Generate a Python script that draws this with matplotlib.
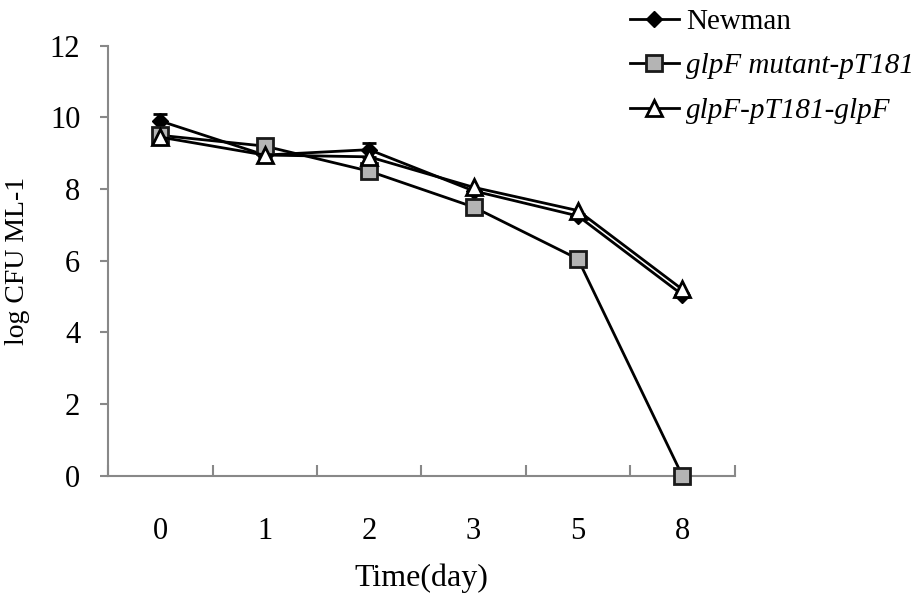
import matplotlib
matplotlib.use('Agg')
import matplotlib.pyplot as plt
from matplotlib.lines import Line2D
import numpy as np

plt.rcParams['font.family'] = ['Liberation Serif', 'DejaVu Serif']

days = ['0', '1', '2', '3', '5', '8']
newman = [9.9, 8.95, 9.1, 7.95, 7.25, 5.05]
newman_err = [0.2, 0.05, 0.2, 0.05, 0.05, 0.05]
mutant = [9.5, 9.2, 8.5, 7.5, 6.05, 0.0]
complement = [9.45, 8.95, 8.9, 8.05, 7.4, 5.2]
labels = ['Newman', 'glpF mutant-pT181', 'glpF-pT181-glpF']


def main():
    fig = plt.figure(figsize=(9.24, 5.94), dpi=100)
    ax = fig.add_axes([0.117, 0.199, 0.678, 0.724])
    x = np.arange(len(days))

    ax.errorbar(x, newman, yerr=newman_err, color='black', lw=2, marker='D', ms=8,
                mfc='black', mec='black', capsize=5, capthick=2, elinewidth=2, zorder=3)
    h1 = Line2D([], [], color='black', lw=2, marker='D', ms=8, mfc='black', mec='black')
    h2, = ax.plot(x, mutant, color='black', lw=2, marker='s', ms=12, mfc='#b4b4b4',
                  mec='#1a1a1a', mew=2, zorder=4, clip_on=False)
    h3, = ax.plot(x, complement, color='black', lw=2, marker='^', ms=11, mfc='white',
                  mec='black', mew=2, zorder=5)

    ax.set_xlim(-0.5, len(days) - 0.5)
    ax.set_ylim(0, 12)
    ax.set_yticks(np.arange(0, 13, 2))
    ax.set_xticks(np.arange(-0.5, len(days), 1.0))
    ax.set_xticklabels([])
    ax.set_xticks(x, minor=True)
    ax.set_xticklabels(days, minor=True)
    ax.tick_params(axis='x', which='major', direction='in', length=8, width=1.5, color='#888888')
    ax.tick_params(axis='x', which='minor', length=0, pad=30, labelsize=22)
    ax.tick_params(axis='y', direction='out', length=6, width=1.5, color='#888888', pad=14, labelsize=22)

    for s in ['top', 'right']:
        ax.spines[s].set_visible(False)
    for s in ['left', 'bottom']:
        ax.spines[s].set_color('#888888')
        ax.spines[s].set_linewidth(1.5)

    ax.set_xlabel('Time(day)', fontsize=23, labelpad=12)
    ax.set_ylabel('log CFU ML-1', fontsize=20, labelpad=14)

    leg = fig.legend([h1, h2, h3], labels, loc='upper left', bbox_to_anchor=(0.653, 1.03),
                     frameon=False, fontsize=21, handlelength=1.7, handletextpad=0.24,
                     labelspacing=0.62)
    for t in leg.get_texts()[1:]:
        t.set_fontstyle('italic')

    fig.savefig('out.png', dpi=100)


if __name__ == '__main__':
    main()
